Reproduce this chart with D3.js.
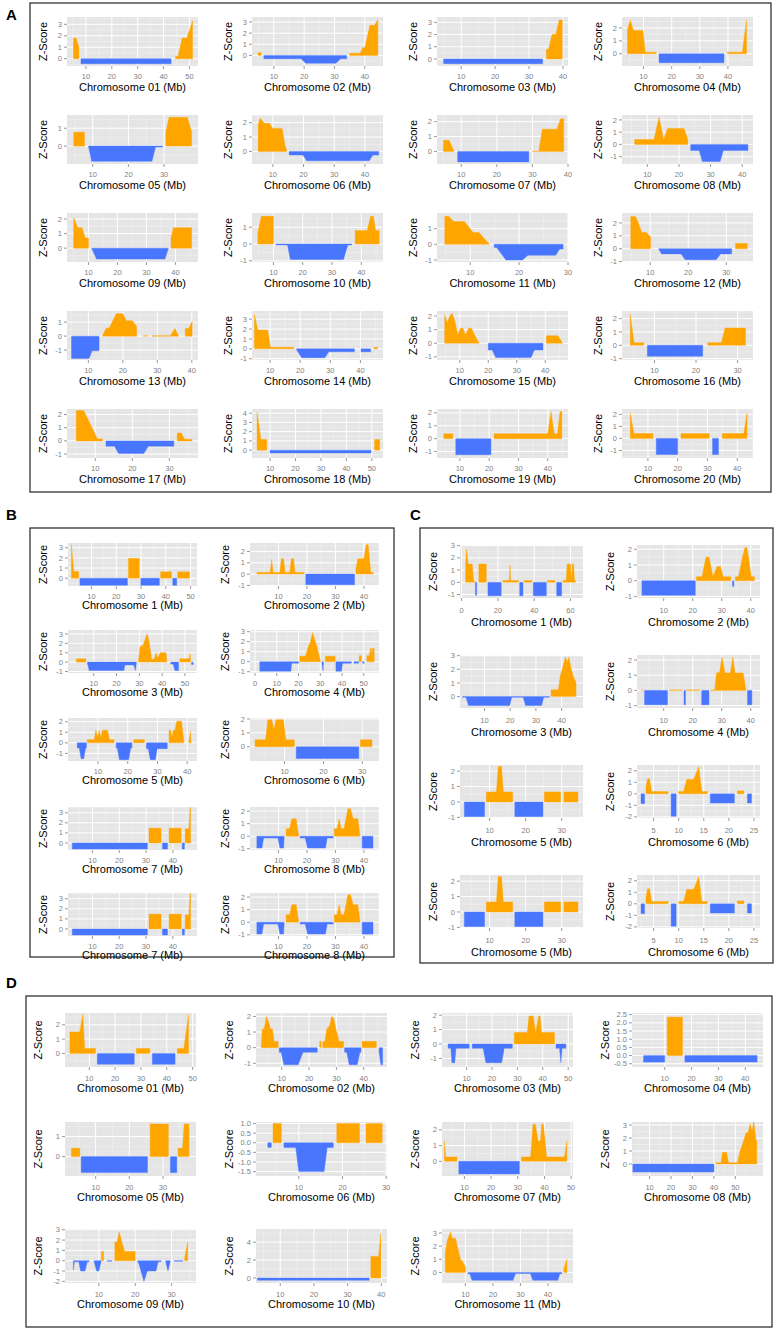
<!DOCTYPE html>
<html><head><meta charset="utf-8">
<script src="https://cdn.jsdelivr.net/npm/d3@7"></script>
<style>body{margin:0;background:#fff}</style>
</head><body><svg id="fig" width="777" height="1331"></svg>
<script>
// ---------- DATA : segments of [position Mb, Z-score] ----------
const A01=[[[5.2,1.8],[6.2,1.8],[7,1.2],[7.3,1.1]],[[8.1,-0.45],[42.9,-0.45]],[[44.6,0.2],[45.6,0.2],[47.2,1.8],[49,1.8],[51.2,3.3]]];
const A02=[[[4.8,0.25],[5.8,0.25]],[[6.7,-0.3],[19,-0.3],[20.5,-0.7],[30.5,-0.7],[32,-0.3],[34,-0.3]],[[35,0.2],[38.5,0.2],[39.3,0.7],[40,0.7],[41.7,2.7],[43.2,2.7],[44.3,3.2]]];
const A03=[[[4.8,-0.39],[34,-0.39]],[[35.1,0.8],[35.8,0.8],[36.8,2.0],[37.9,2.0],[38.9,3.2],[39.8,3.2]]];
const A04=[[[4.3,1.9],[5.3,2.6],[6.4,1.8],[9.8,1.8],[10.6,0.12],[14.5,0.12]],[[15.5,-0.7],[38.6,-0.7]],[[39.8,0.12],[45.1,0.12],[46.6,2.6]]];
const A05=[[[4.7,0.78],[7.7,0.78]],[[8.8,0],[9.7,-0.85],[26.6,-0.85],[27.6,-0.05],[29.6,-0.05]],[[30.5,0.8],[31.4,1.61],[36.5,1.61],[37.7,0.8]]];
const A06=[[[5.2,1.9],[5.9,2.3],[7.2,1.95],[8.9,1.95],[10,1.6],[13,1.6],[14,0.4],[14.6,0]],[[15.3,-0.25],[19.8,-0.25],[21,-0.65],[41.4,-0.65],[42.6,-0.25],[44.5,-0.25]]];
const A07=[[[5,0.75],[6.6,0.75],[8,0]],[[9,-0.7],[29,-0.7]],[[30,0.02],[31.8,0.02],[32.8,1.5],[36.9,1.5],[37.9,2.2],[38.8,2.2]]];
const A08=[[[6,0.4],[12.1,0.4],[13.7,2.2],[15.2,0.4],[16.4,1.3],[21.6,1.3],[22.8,0.4]],[[23.7,-0.5],[26.4,-0.5],[27.4,-1.4],[33,-1.4],[34,-0.5],[41.8,-0.5]]];
const A09=[[[4.9,2.1],[6.3,1.4],[7.8,1.4],[8.9,0.7],[10,0.7]],[[11.1,0],[12.8,-0.75],[36.4,-0.75],[37.6,0]],[[38.5,0.7],[39.3,1.4],[45.6,1.4]]];
const A10=[[[4.7,0.7],[5.9,1.65],[10,1.65]],[[10.9,-0.05],[14.8,-0.05],[15.8,-0.92],[33.9,-0.92],[35.4,-0.05],[36.8,-0.05]],[[37.9,0.8],[42,0.8],[43.2,1.65],[44.1,1.65],[44.9,0.8],[46.1,0.8]]];
const A11=[[[4.8,1.8],[5.6,1.8],[6.6,1.45],[8.8,1.45],[10.6,0.75],[11.8,0.75],[13.9,0]],[[14.9,-0.2],[15.4,-0.2],[17.3,-1.0],[20.7,-1.0],[21.8,-0.7],[27.5,-0.7],[28.3,-0.3],[29,-0.3]]];
const A12=[[[4.9,2.5],[6.1,2.5],[6.8,2.1],[7.8,1.25],[9,1.25],[10.1,0.9]],[[12.2,0],[13,-0.4],[18.1,-0.4],[19.2,-0.85],[27.3,-0.85],[28.5,-0.4],[31.4,-0.4]],[[32.4,0.41],[35.5,0.41]]];
const A13=[[[5.1,-1.6],[10.2,-1.6],[11.1,-1.05],[13.1,-1.05]],[[14.1,0],[15.1,0.55],[16.1,0.6],[18.1,1.6],[20,1.6],[21,1.1],[22.7,1.1],[24,0.7]],[[25.9,0.03],[27.2,0.03]],[[28.5,0.03],[33.8,0.03],[35.1,0.55],[36.2,0]],[[38.1,0.55],[39.1,0.55],[40.1,1.05]]];
const A14=[[[4.8,3.5],[5.9,1.9],[9.2,1.9],[10.1,0.15],[17.9,0.15]],[[18.8,-0.1],[20.5,-0.9],[28.2,-0.9],[29.5,-0.3],[38,-0.3]],[[40.2,-0.3],[43.4,-0.3]],[[44.5,0.15],[45.7,0.15]]];
const A15=[[[4.7,2.1],[5.6,1.5],[6.5,2.0],[7.3,2.2],[8.3,1.6],[9.3,0.6],[10.2,1.1],[11.1,1.1],[12,0.6],[13.1,1.1],[14.1,1.1],[15.2,0.6],[16.8,0]],[[20,-0.5],[21.4,-0.5],[22.6,-1.05],[35,-1.05],[36.2,-0.5],[39.2,-0.5]],[[40.4,0.55],[44.5,0.55],[46.1,0]]];
const A16=[[[4.2,2.3],[5.1,0.2],[7.4,0.2]],[[8.3,-0.82],[21.6,-0.82]],[[22.8,0.2],[26.1,0.2],[27,1.3],[31.9,1.3]]];
const A17=[[[4.9,2.3],[6.9,2.3],[10.6,0.15],[12,0.15]],[[12.9,-0.4],[15.2,-0.4],[16.3,-0.95],[23.1,-0.95],[24.3,-0.4],[31.2,-0.4]],[[32.1,0.6],[33.2,0.6],[34.1,0.12],[36.1,0.12]]];
const A18=[[[4.9,4.1],[6.4,1.15],[8.7,1.15]],[[10,-0.31],[49.7,-0.31]],[[51.1,1.15],[53.1,1.15]]];
const A19=[[[4.5,0.38],[7.6,0.38]],[[8.6,-1.25],[20.6,-1.25]],[[21.7,0.38],[40,0.38],[41.1,2.1],[42.2,0.38],[43.3,0.38],[44.2,2.1],[44.8,2.1]]];
const A20=[[[4.1,2.1],[5.3,0.4],[11.7,0.4]],[[12.8,-1.34],[20,-1.34]],[[21.1,0.4],[30.6,0.4]],[[31.7,-1.34],[33.7,-1.34]],[[35,0.4],[42.2,0.4],[43.3,2.1]]];

const B1=[[[1.9,3.3],[2.8,0.65],[4.8,0.65]],[[5.3,-0.7],[24.5,-0.7]],[[24.9,1.95],[29.3,1.95]],[[29.9,-0.7],[37.4,-0.7]],[[37.9,0.63],[42.3,0.63]],[[42.8,-0.7],[44.4,-0.7]],[[44.8,0.63],[49.6,0.63]]];
const B2=[[[2.4,0.15],[7.1,0.15],[7.6,1.3],[8.1,0.15],[10.5,0.15],[11,1.35],[11.8,1.35],[12.3,0.15],[14,0.15],[14.5,1.35],[15.3,1.35],[15.8,0.15],[19,0.15]],[[19.6,-0.95],[36.7,-0.95]],[[37.2,0.5],[37.9,1.35],[40,1.35],[40.8,2.6],[41.5,2.6],[42.4,0.15],[43.3,0.15]]];
const B3=[[[2.4,0.35],[6.5,0.35]],[[7.1,0],[8,-0.9],[23.2,-0.9],[23.7,-0.3],[27.5,-0.3],[28.3,-0.9],[28.7,0]],[[29.6,0],[30.3,1.7],[31.5,1.7],[33.4,3.0],[34.2,2.3],[35.4,0.3],[36.5,0.3],[37.4,1.0],[38,0.4],[39.2,1.0],[41.7,1.0],[42.1,0]],[[43.8,-0.2],[44.8,-0.2],[45.6,-0.9],[47.2,-0.9]],[[47.8,0.35],[51.8,0.35],[52.4,0.9]],[[52.9,-0.25],[53.6,-0.25]]];
const B4=[[[2.2,-0.95],[16.5,-0.95],[16.8,-0.15],[20,-0.15]],[[20.6,0.55],[23.2,0.55],[24.5,1.5],[25.5,2.0],[26.5,2.9],[27.5,2.2],[28.5,1.5],[29.5,0.55],[30.2,0]],[[30.8,-0.2],[31.3,-0.9],[31.5,0]],[[32.3,0.55],[36.8,0.55]],[[37.2,-0.95],[39.8,-0.95],[40.2,-0.15],[44.3,-0.15]],[[45.5,-0.15],[47.6,-0.15]],[[47.9,0.6],[48.9,0.6]],[[49.5,-0.15],[50.2,-0.15]],[[51.4,0.6],[52.5,0.6],[53.1,1.35],[53.5,1.35],[53.8,0.6],[54.1,1.35],[54.8,1.35]]];
const B5=[[[3,-0.5],[3.7,-0.5],[4.3,-1.5],[5.2,-1.5],[5.8,-0.5],[6.1,-0.5]],[[6.4,0.3],[8.7,0.3],[9.3,1.2],[9.8,0.5],[10.4,1.2],[10.9,0.5],[11.5,1.2],[13.2,1.2],[13.9,0.3],[15.4,0.3]],[[16.1,-0.5],[16.5,-0.5],[17.2,-1.6],[20.3,-1.6],[21,-0.5],[21.4,-0.5]],[[22,0.3],[25.6,0.3]],[[26.3,-0.55],[26.9,-0.55],[27.6,-1.6],[29.3,-1.6],[29.9,-0.55],[33.3,-0.55]],[[33.9,1.2],[34.4,1.2],[34.8,0.5],[35.3,1.2],[35.9,1.2],[36.5,2.05],[38.1,2.05],[38.8,0.3]],[[40.5,0],[41.1,1.1],[41.3,0]]];
const B6=[[[2.4,0.5],[5.1,0.5],[5.7,1.95],[6.7,1.95],[7.3,1.2],[7.8,1.95],[9.7,1.95],[10.3,0.5],[12.5,0.5]],[[13,-0.85],[29.1,-0.85]],[[29.5,0.5],[32.5,0.5]]];
const B7=[[[2.5,-0.6],[30.5,-0.6]],[[31.1,1.47],[35.6,1.47]],[[36.1,-0.6],[38,-0.6]],[[38.6,1.47],[43.1,1.47]],[[43.5,-0.6],[44.3,-0.6]],[[44.6,1.4],[46,1.4],[46.4,3.5],[46.6,3.5]]];
const B8=[[[2.4,-0.95],[4.2,-0.95],[4.8,-0.15],[9.8,-0.15],[10.5,-0.95],[11.8,-0.95],[12,0]],[[12.7,0.6],[13.9,0.6],[14.7,1.4],[16.2,1.4],[17.1,0]],[[17.6,-0.15],[19.4,-0.15],[20.2,-0.95],[26.5,-0.95],[27.1,-0.15],[29.2,-0.15]],[[29.6,0.6],[30.6,0.6],[31.3,1.4],[32,0.6],[33,0.6],[34.4,2.2],[35.3,2.2],[36.2,1.4],[37.9,1.4],[38.6,0]],[[39.4,-0.95],[43.2,-0.95]]];

const C1=[[[2.2,1.5],[2.7,2.7],[3.6,1.5],[5.8,1.5],[6.6,0.1],[7.1,0.1]],[[7.6,-1.05],[8.3,-1.05]],[[9.5,1.5],[13.6,1.5]],[[14.5,-1.1],[21.8,-1.1]],[[22.7,0.15],[26.2,0.15],[26.7,1.4],[27,0.15],[31.3,0.15]],[[32,-1.1],[33.8,-1.1]],[[34.5,0.15],[38.7,0.15]],[[39.5,-1.1],[46.7,-1.1]],[[47.3,0.15],[51.5,0.15]],[[52.4,-1.1],[55.1,-1.1]],[[55.8,0.15],[57.6,0.15],[58.2,1.5],[60,1.5],[60.5,0.2],[61,1.5],[61.7,1.5],[62.2,0.15],[62.7,0.15]]];
const C2=[[[2.5,-0.93],[20.9,-0.93]],[[21.3,0.25],[23.2,0.25],[24.6,1.5],[25.6,1.5],[27,0.25],[28.4,0.9],[29.6,0.9],[30.5,0.25],[33.1,0.25]],[[33.7,-0.35],[34.2,-0.35]],[[34.7,0.25],[35.8,0.25],[37.3,1.6],[38,2.1],[38.7,2.1],[40.2,0.25],[41.3,0.25]]];
const C3=[[[1.4,-0.05],[2.8,-0.05],[3.8,-0.65],[19.8,-0.65],[20.6,-0.05],[25,-0.05],[26,-0.65],[32.2,-0.65],[33,-0.05],[35.3,-0.05]],[[35.9,0.5],[38.7,0.5],[39.5,1.5],[40.5,2.2],[41.5,2.9],[42.2,2.5],[42.8,2.9],[43.6,2.1],[44.5,1.5],[45.6,1.0]]];
const C4=[[[2.4,0.03],[3,0.03]],[[3.4,-0.95],[11.3,-0.95]],[[11.9,0.03],[16.4,0.03]],[[17,-0.95],[17.5,-0.95]],[[17.9,0.03],[22.5,0.03]],[[23.1,-0.95],[25.6,-0.95]],[[26.2,0.03],[27.6,0.03],[28.2,1.15],[29.3,1.2],[30.1,2.2],[31.1,1.15],[33,1.15],[33.8,2.2],[34.6,1.15],[37.4,1.15],[38.4,0]],[[38.9,-0.95],[40.4,-0.95]]];
const C5=[[[3,-0.95],[8.6,-0.95]],[[9.1,0.65],[11.9,0.65],[12.4,2.3],[13.3,2.3],[13.8,0.65],[16.4,0.65]],[[17,-0.95],[24.8,-0.95]],[[25.2,0.65],[29.7,0.65]],[[30.6,0.65],[34.5,0.65]]];
const C6=[[[2.5,-0.85],[3.2,-0.85]],[[3.5,0.6],[3.8,1.3],[4.2,1.3],[4.6,0.2],[7.9,0.2]],[[8.5,-1.95],[9.5,-1.95]],[[10,0.2],[11,0.2],[11.6,1.25],[13,1.25],[14,2.35],[14.6,0.2],[15.7,0.2]],[[16.3,-0.8],[21.1,-0.8]],[[21.7,0.25],[23,0.25]],[[23.7,-0.8],[24.5,-0.8]]];

const D01=[[[2.5,1.5],[6.3,1.5],[7.5,2.7],[8.2,0.35],[12.4,0.35]],[[13.1,-0.75],[27.4,-0.75]],[[28.2,0.35],[33.4,0.35]],[[34.4,-0.75],[43.2,-0.75]],[[44.1,0.35],[46.6,0.35],[48.4,2.7]]];
const D02=[[[2.5,0],[2.9,1.2],[3.6,1.2],[4.4,2.0],[5.3,1.6],[5.9,1.2],[6.6,1.2],[7.2,0.4],[8.7,0.4]],[[9.1,-0.3],[9.8,-0.3],[10.8,-1.1],[16,-1.1],[17.8,-0.3],[23,-0.3]],[[23.9,0.4],[24.4,0.4]],[[25,0.4],[25.8,0.4],[26.5,1.2],[27.5,1.4],[28.3,2.0],[29,1.9],[29.8,1.2],[31,0.4],[32.6,0.4]],[[33,-0.3],[33.8,-0.3],[34.7,-1.1],[37.6,-1.1],[38.6,-0.3],[39,-0.3]],[[39.4,0.4],[44.6,0.4]],[[45.6,-0.3],[46.3,-1.1],[46.9,-1.1]]];
const D03=[[[2.7,-0.3],[3.8,-0.3],[4.2,-1.3],[5.3,-1.3],[5.8,-0.3],[11,-0.3]],[[12.2,-0.3],[16.5,-0.3],[17.6,-1.3],[23.8,-1.3],[24.8,-0.3],[28,-0.3]],[[28.8,0.8],[33.9,0.8],[34.6,1.95],[36.2,1.95],[37.2,0.8],[38.4,1.95],[38.9,1.95],[39.5,0.8],[44.6,0.8]],[[45.2,-0.3],[46.6,-0.3],[47.1,-1.3],[47.6,-0.3],[49.1,-0.3]]];
const D04=[[[2.1,-0.4],[10,-0.4]],[[10.9,2.35],[16.6,2.35]],[[17.5,-0.4],[44.4,-0.4]]];
const D05=[[[2.8,0.42],[5.3,0.42]],[[5.7,-0.8],[25.4,-0.8]],[[26.2,1.63],[31.6,1.63]],[[32.2,-0.8],[34.1,-0.8]],[[34.5,0.42],[35.8,0.42],[36.3,1.63],[37.7,1.63]]];
const D06=[[[2.9,-0.24],[3.7,-0.24]],[[4.1,1.0],[6,1.0]],[[6.6,-0.25],[9.3,-0.25],[10,-1.5],[15.8,-1.5],[16.5,-0.25],[17.9,-0.25]],[[18.7,1.0],[23.9,1.0]],[[25.4,1.0],[29.1,1.0]]];
const D07=[[[2.5,1.3],[3,0.28],[7.2,0.28]],[[7.9,-0.8],[30.6,-0.8]],[[31.4,0.28],[34.8,0.28],[35.7,2.35],[36.6,2.35],[37.6,1.3],[38.5,1.3],[39,2.35],[39.6,2.35],[40.8,0.28],[47.5,0.28],[48.4,1.3]]];
const D08=[[[2.2,-0.62],[40,-0.62]],[[41,0.1],[43.3,0.1],[44,0.9],[45.9,0.9],[46.8,0.1],[51,0.1],[52.2,1.0],[53.5,1.6],[55,2.4],[56,2.4],[56.9,3.1],[57.8,2.5],[58.6,3.3],[59.6,1.8],[60,1.8]]];
const D09=[[[3,-0.9],[3.3,-0.1],[4.5,-0.1],[5,-1.0],[6.2,-1.0],[6.8,-0.1],[7.3,-0.1]],[[8.7,-0.1],[9.4,-1.0],[10,-1.0],[10.6,-0.1]],[[10.7,0.9],[11.3,0.9]],[[12.3,-0.05],[13.6,-0.05]],[[14.4,1.8],[15,1.8],[15.6,2.8],[16.3,1.8],[17.1,0.9],[20,0.9]],[[20.7,-0.1],[21,-0.3],[22.4,-2.0],[23.3,-1.0],[25.7,-1.0],[26.3,-0.1],[27.1,-0.1]],[[28.4,-0.1],[29,-1.0],[29.6,-0.1]],[[30.7,-0.05],[33.1,-0.05]],[[33.6,0.3],[34.4,1.8]]];
const D10=[[[3.2,-0.26],[36.4,-0.26]],[[36.9,2.4],[39.2,2.4],[39.9,5.0]]];
const D11=[[[2.7,1.5],[3.4,2.4],[4.6,3.1],[5.2,2.6],[6.4,2.6],[7.3,1.8],[8.2,1.0],[9.1,0.8],[10,0.4]],[[10.9,-0.1],[11.6,-0.1],[12.4,-0.6],[27.3,-0.6],[28.2,-0.08],[33.6,-0.08],[34.5,-0.6],[43.6,-0.6],[44.3,-0.1],[45.1,-0.1]],[[45.8,0.3],[46.9,1.0]]];

// ---------- AXES (chromosome labels, axis limits, tick values) ----------
const A_chrom=["01","02","03","04","05","06","07","08","09","10","11","12","13","14","15","16","17","18","19","20"];
const A_segs=[A01,A02,A03,A04,A05,A06,A07,A08,A09,A10,A11,A12,A13,A14,A15,A16,A17,A18,A19,A20];
const A_xlim=[[2.7,53.3],[2.8,46],[2.85,41.5],[2.35,48.9],[2.8,39.5],[3.2,45.9],[3.2,40],[2,43.4],[2.6,47.8],[2.7,47.4],[3.2,30],[2.6,37],[3.8,41.8],[4,47.5],[2,48],[2.2,33.7],[2.4,37.7],[2.9,54.4],[2.2,46.9],[1.3,45.3]];
const A_ylim=[[-0.64,3.64],[-0.95,3.45],[-0.58,3.44],[-0.95,2.85],[-1.0,1.74],[-0.87,2.53],[-0.84,2.45],[-1.6,2.4],[-0.95,2.41],[-1.07,1.85],[-1.13,2.0],[-1.03,2.77],[-1.71,1.8],[-1.13,3.83],[-1.23,2.37],[-1.1,2.57],[-1.3,2.42],[-0.85,4.45],[-1.5,2.3],[-1.63,2.45]];
const A_xticks=[[10,20,30,40,50],[10,20,30,40],[10,20,30,40],[10,20,30,40],[10,20,30],[10,20,30,40],[10,20,30,40],[10,20,30,40],[10,20,30,40],[10,20,30,40],[10,20,30],[10,20,30],[10,20,30,40],[10,20,30,40],[10,20,30,40],[10,20,30],[10,20,30],[10,20,30,40,50],[10,20,30,40],[10,20,30,40]];
const A_yticks=[[0,1,2,3],[0,1,2,3],[0,1,2,3],[0,1,2],[0,1],[0,1,2],[0,1,2],[-1,0,1,2],[0,1,2],[-1,0,1],[-1,0,1],[-1,0,1,2],[-1,0,1],[-1,0,1,2,3],[-1,0,1,2],[-1,0,1,2],[-1,0,1,2],[0,1,2,3,4],[-1,0,1,2],[-1,0,1,2]];

const B_chrom=["1","2","3","4","5","6","7","8","7","8"];
const B_segs=[B1,B2,B3,B4,B5,B6,B7,B8,B7,B8];
const B_xlim=[[0.5,52.6],[0,45.3],[-1.3,55.3],[-2.3,57],[-0.1,43.3],[1.1,34.3],[0.9,49],[0,45.3],[0.9,49],[0,45.3]];
const B_ylim=[[-0.77,3.47],[-1.05,2.75],[-1.16,3.42],[-1.13,3.17],[-1.72,2.35],[-1.03,2.07],[-0.7,3.57],[-1.1,2.33],[-0.7,3.57],[-1.1,2.33]];
const B_xticks=[[10,20,30,40,50],[10,20,30,40],[10,20,30,40,50],[0,10,20,30,40,50],[10,20,30,40],[10,20,30],[10,20,30,40],[10,20,30,40],[10,20,30,40],[10,20,30,40]];
const B_yticks=[[0,1,2,3],[-1,0,1,2],[-1,0,1,2,3],[-1,0,1,2,3],[-1,0,1,2],[0,1,2],[0,1,2,3],[-1,0,1,2],[0,1,2,3],[-1,0,1,2]];

const C_chrom=["1","2","3","4","5","6","5","6"];
const C_segs=[C1,C2,C3,C4,C5,C6,C5,C6];
const C_xlim=[[-0.9,66.9],[0.8,43.2],[0.5,48.3],[0.8,43.2],[1.8,35.9],[1.7,26.2],[1.8,35.9],[1.7,26.2]];
const C_ylim=[[-1.28,3.05],[-1.1,2.27],[-0.84,3.05],[-1.16,2.33],[-1.04,2.4],[-2.1,2.5],[-1.04,2.4],[-2.1,2.5]];
const C_xticks=[[0,20,40,60],[10,20,30,40],[10,20,30,40],[10,20,30,40],[10,20,30],[5,10,15,20,25],[10,20,30],[5,10,15,20,25]];
const C_yticks=[[-1,0,1,2,3],[-1,0,1,2],[0,1,2,3],[-1,0,1,2],[-1,0,1,2],[-2,-1,0,1,2],[-1,0,1,2],[-2,-1,0,1,2]];

const D_chrom=["01","02","03","04","05","06","07","08","09","10","11"];
const D_segs=[D01,D02,D03,D04,D05,D06,D07,D08,D09,D10,D11];
const D_xlim=[[0.6,51.3],[0.6,48.5],[0.3,51.9],[-2.2,46.6],[0.9,39.8],[0.2,30.2],[1.6,50.7],[1.8,62.9],[0.7,36.7],[2.8,41.7],[1.5,49.1]];
const D_ylim=[[-0.94,2.82],[-1.24,2.22],[-1.6,2.15],[-0.7,2.6],[-0.97,1.73],[-1.73,1.08],[-0.93,2.5],[-0.92,3.23],[-2.16,3.07],[-0.57,5.47],[-0.8,3.3]];
const D_xticks=[[10,20,30,40,50],[10,20,30,40],[10,20,30,40,50],[10,20,30,40],[10,20,30],[10,20,30],[10,20,30,40,50],[10,20,30,40,50],[10,20,30],[10,20,30,40],[10,20,30,40]];
const D_yticks=[[0,1,2],[-1,0,1,2],[-1,0,1,2],[-0.5,0,0.5,1,1.5,2,2.5],[0,1],[-1.5,-1,-0.5,0,0.5,1],[0,1,2],[0,1,2,3],[-2,-1,0,1,2,3],[0,2,4],[0,1,2,3]];

// ---------- DRAWING ----------
const svg=d3.select("#fig");
const FONT="'Liberation Sans', Arial, Helvetica, sans-serif";
const ORANGE="#FFA500", BLUE="#4876FF", BG="#E5E5E5";
let clipId=0;

function minorVals(ticks, dom){
  const out=[]; if(ticks.length<2) return out;
  const step=ticks[1]-ticks[0];
  const lo=Math.min(dom[0],dom[1]), hi=Math.max(dom[0],dom[1]);
  for(let v=ticks[0]-step/2; v<=ticks[ticks.length-1]+step/2+1e-9; v+=step){ if(v>lo && v<hi) out.push(v); }
  return out;
}
function fmt(v, ticks){
  const dec = ticks.some(t=>Math.abs(t-Math.round(t))>1e-9);
  return dec ? v.toFixed(1) : String(v);
}

function drawChart(left, top, w, h, title, segs, xlim, ylim, xt, yt, st){
  const g=svg.append("g").attr("transform",`translate(${left},${top})`);
  const x=d3.scaleLinear().domain(xlim).range([0,w]);
  const y=d3.scaleLinear().domain(ylim).range([h,0]);
  g.append("rect").attr("width",w).attr("height",h).attr("fill",BG);
  minorVals(xt,xlim).forEach(v=>g.append("line").attr("x1",x(v)).attr("x2",x(v)).attr("y1",0).attr("y2",h).attr("stroke","#F2F2F2").attr("stroke-width",0.5));
  minorVals(yt,ylim).forEach(v=>g.append("line").attr("y1",y(v)).attr("y2",y(v)).attr("x1",0).attr("x2",w).attr("stroke","#F2F2F2").attr("stroke-width",0.5));
  xt.forEach(v=>g.append("line").attr("x1",x(v)).attr("x2",x(v)).attr("y1",0).attr("y2",h).attr("stroke","#fff").attr("stroke-width",1));
  yt.forEach(v=>g.append("line").attr("y1",y(v)).attr("y2",y(v)).attr("x1",0).attr("x2",w).attr("stroke","#fff").attr("stroke-width",1));
  const id="c"+(clipId++);
  g.append("clipPath").attr("id",id).append("rect").attr("width",w).attr("height",h);
  const area=d3.area().x(d=>x(d[0])).y0(y(0)).y1(d=>y(d[1]));
  const ga=g.append("g").attr("clip-path",`url(#${id})`);
  segs.forEach(s=>{
    const pos=s.some(d=>d[1]>0);
    ga.append("path").attr("d",area(s)).attr("fill",pos?ORANGE:BLUE).attr("stroke",pos?ORANGE:BLUE).attr("stroke-width",0.4);
  });
  xt.forEach(v=>{
    g.append("line").attr("x1",x(v)).attr("x2",x(v)).attr("y1",h).attr("y2",h+3).attr("stroke","#7f7f7f").attr("stroke-width",0.8);
    g.append("text").attr("x",x(v)).attr("y",h+st.tickDy).attr("text-anchor","middle").attr("font-family",FONT).attr("font-size",st.tickFs).attr("fill","#7f7f7f").text(fmt(v,xt));
  });
  yt.forEach(v=>{
    g.append("line").attr("x1",-3).attr("x2",0).attr("y1",y(v)).attr("y2",y(v)).attr("stroke","#7f7f7f").attr("stroke-width",0.8);
    g.append("text").attr("x",-5).attr("y",y(v)+2.6).attr("text-anchor","end").attr("font-family",FONT).attr("font-size",st.tickFs).attr("fill","#7f7f7f").text(fmt(v,yt));
  });
  g.append("text").attr("x",w/2).attr("y",h+st.titleDy).attr("text-anchor","middle").attr("font-family",FONT).attr("font-size",st.titleFs).attr("fill","#000").text(title);
  g.append("text").attr("transform",`translate(${-st.ylabDx},${h/2}) rotate(-90)`).attr("text-anchor","middle").attr("font-family",FONT).attr("font-size",st.ylabFs).attr("fill","#000").text("Z-Score");
}

function drawGroup(cols, rows, w, h, chrom, segs, xl, yl, xt, yt, st){
  chrom.forEach((c,i)=>{
    const col=i%cols.length, row=Math.floor(i/cols.length);
    drawChart(cols[col], rows[row], w, h, `Chromosome ${c} (Mb)`, segs[i], xl[i], yl[i], xt[i], yt[i], st);
  });
}
function box(x0,y0,x1,y1){
  svg.append("rect").attr("x",x0).attr("y",y0).attr("width",x1-x0).attr("height",y1-y0).attr("fill","none").attr("stroke","#333").attr("stroke-width",1.3);
}
function letter(t,x,yb){
  svg.append("text").attr("x",x).attr("y",yb).attr("font-family",FONT).attr("font-weight","bold").attr("font-size",15).text(t);
}

box(30,3,771,492); box(30,528,394,957); box(420,528,773,963); box(26,996,772,1327);
letter("A",6,20); letter("B",6,520); letter("C",410,520); letter("D",6,988);

drawGroup([67,252,437,622],[17,115,213,311,409],131,49,A_chrom,A_segs,A_xlim,A_ylim,A_xticks,A_yticks,
  {tickDy:13,titleDy:25,ylabDx:20,tickFs:7.5,titleFs:11,ylabFs:11});
drawGroup([68,250],[543,630,718,807,893],129,43,B_chrom,B_segs,B_xlim,B_ylim,B_xticks,B_yticks,
  {tickDy:13,titleDy:23,ylabDx:21,tickFs:7.5,titleFs:11,ylabFs:11});
drawGroup([460,637],[545,655,765,875],123,53,C_chrom,C_segs,C_xlim,C_ylim,C_xticks,C_yticks,
  {tickDy:15,titleDy:28,ylabDx:23,tickFs:7.5,titleFs:11,ylabFs:11});
drawGroup([65,256,442,632],[1013,1122,1229],131,54,D_chrom,D_segs,D_xlim,D_ylim,D_xticks,D_yticks,
  {tickDy:14,titleDy:25,ylabDx:23,tickFs:7.5,titleFs:11,ylabFs:11});
</script></body></html>
